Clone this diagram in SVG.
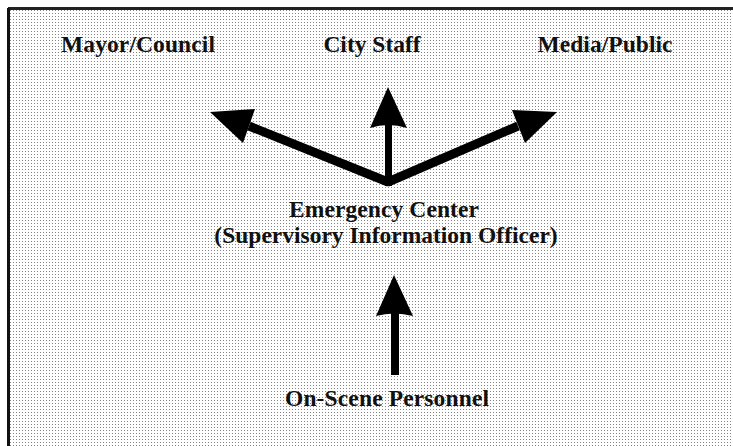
<svg xmlns="http://www.w3.org/2000/svg" width="733" height="446" viewBox="0 0 733 446">
  <defs>
    <!-- fine dot screen used as the panel fill -->
    <pattern id="dots" x="0" y="0" width="3" height="3" patternUnits="userSpaceOnUse">
      <rect width="3" height="3" fill="#ffffff"/>
      <rect x="1" y="1" width="1" height="1" fill="#858585"/>
    </pattern>
    <style>
      .lbl { font-family: "Liberation Serif", "Times New Roman", serif; font-weight: bold; font-size: 23.5px; fill: #111; text-anchor: middle; }
      .shaft { fill: none; stroke: #000; stroke-width: 9; stroke-linejoin: bevel; }
      .head { fill: #000; }
    </style>
  </defs>

  <rect width="733" height="446" fill="#ffffff"/>
  <!-- panel -->
  <rect x="10" y="10" width="723" height="436" fill="url(#dots)"/>
  <line x1="8" y1="8.5" x2="733" y2="8.5" stroke="#222" stroke-width="3"/>
  <line x1="8.5" y1="8" x2="8.5" y2="446" stroke="#111" stroke-width="3"/>

  <g id="connectors">
    <polyline class="shaft" points="249,126 388,182 518,126"/>
    <line x1="388.5" y1="186" x2="388.5" y2="124" stroke="#000" stroke-width="7"/>
    <polygon class="head" points="210,112 255,109 243,143"/>
    <polygon class="head" points="557,112 512,110 525,143"/>
    <path class="head" d="M388,87 L370,128 Q388,122 407,128 Z"/>
    <line x1="395" y1="375" x2="395" y2="312" stroke="#000" stroke-width="8"/>
    <path class="head" d="M394,275 L376,316 Q394,311 413,316 Z"/>
  </g>

  <g id="mayor-council"><text class="lbl" x="138" y="52" textLength="154">Mayor/Council</text></g>
  <g id="city-staff"><text class="lbl" x="372" y="52">City Staff</text></g>
  <g id="media-public"><text class="lbl" x="605" y="52" textLength="135">Media/Public</text></g>
  <g id="emergency-center">
    <text class="lbl" x="384" y="217" textLength="190">Emergency Center</text>
    <text class="lbl" x="386" y="243">(Supervisory Information Officer)</text>
  </g>
  <g id="on-scene"><text class="lbl" x="387" y="406" textLength="204">On-Scene Personnel</text></g>
</svg>
